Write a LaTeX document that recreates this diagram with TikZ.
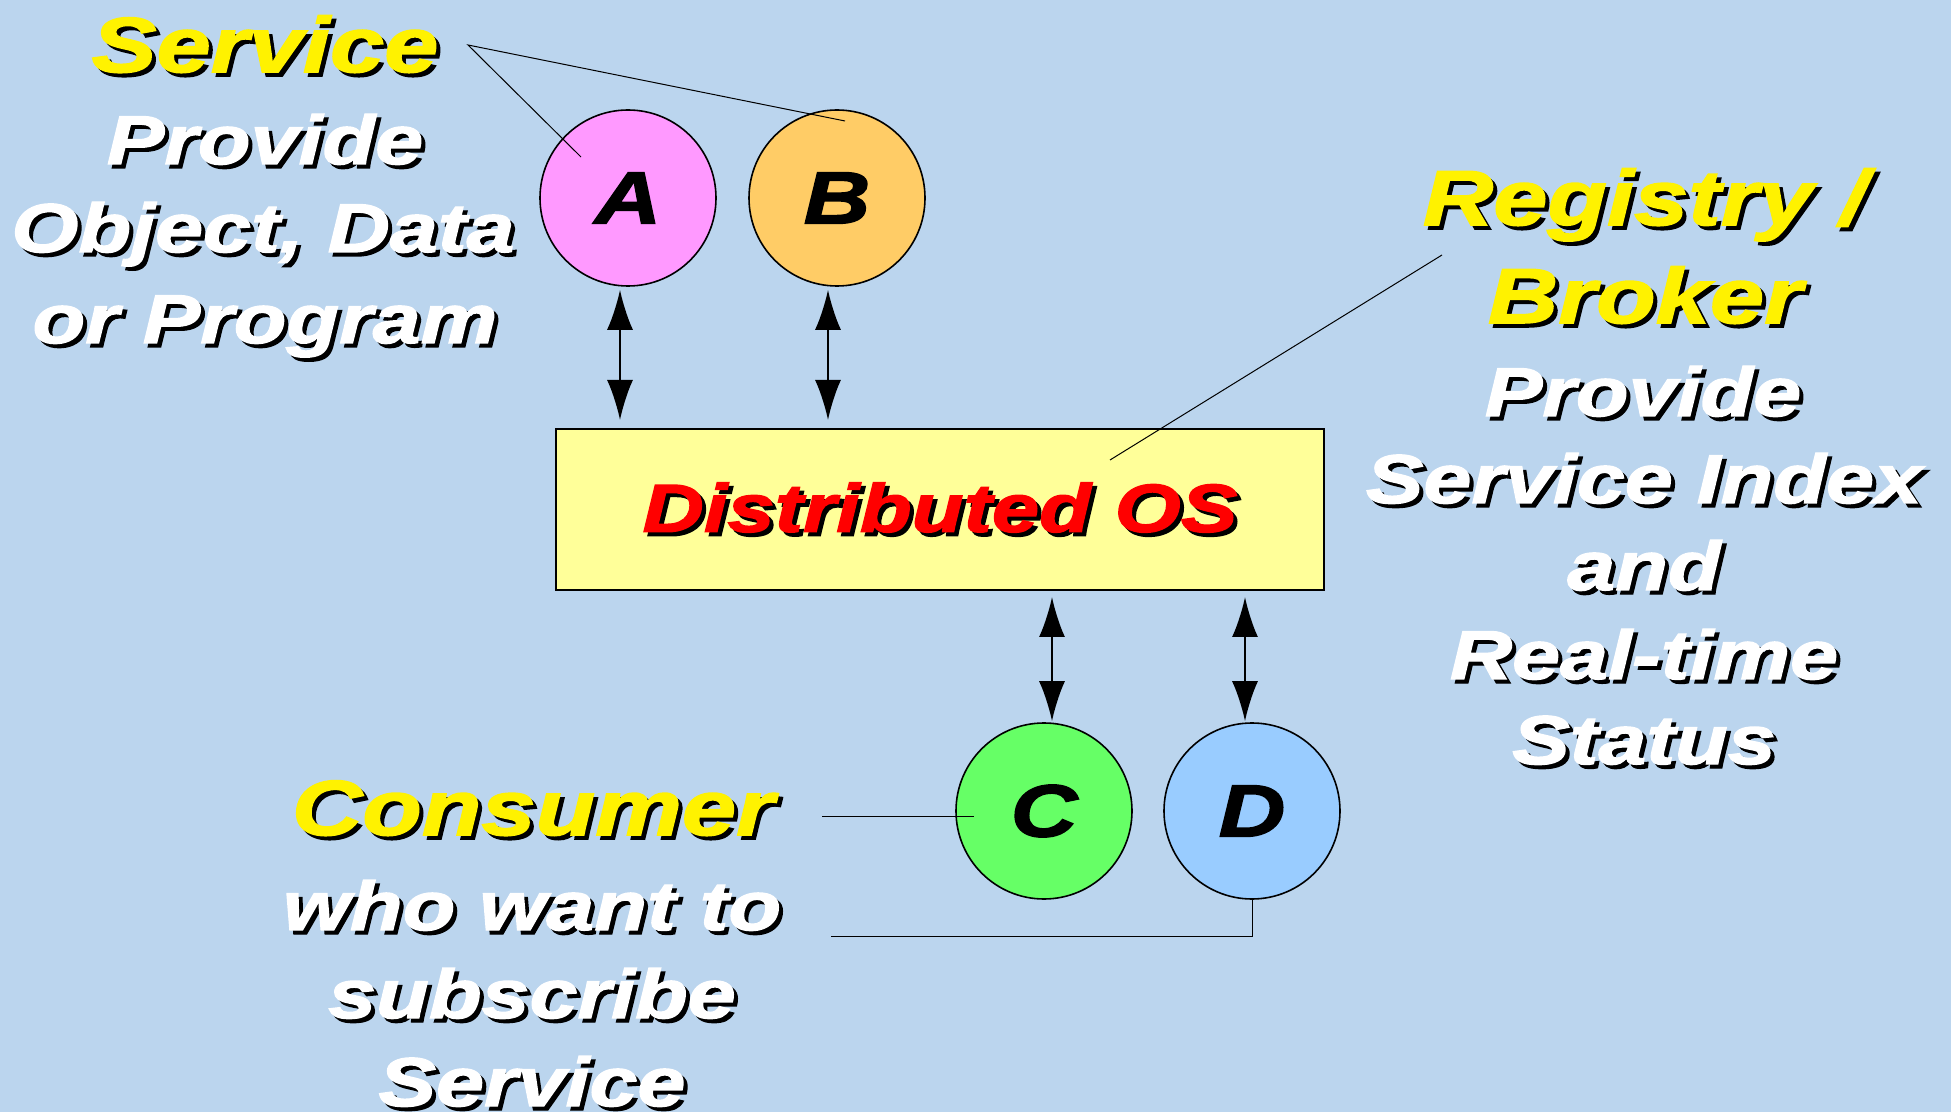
\documentclass[tikz,border=0pt]{standalone}
\usepackage{fontspec}
\setmainfont{Liberation Sans}
\newfontfamily\hvy[FakeStretch=1.25,FakeBold=2]{Liberation Sans}
\usetikzlibrary{arrows.meta}
\definecolor{bg}{RGB}{187,213,238}
\definecolor{cA}{RGB}{255,153,255}
\definecolor{cB}{RGB}{255,204,102}
\definecolor{cC}{RGB}{102,255,102}
\definecolor{cD}{RGB}{153,204,255}
\definecolor{cBox}{RGB}{255,255,153}
\newcommand{\shd}[2]{\leavevmode\rlap{\hspace{2pt}\raisebox{-2pt}{\color{black}#2}}{\color{#1}#2}}
\tikzset{
  big/.style={anchor=base, inner sep=0pt, font=\hvy\bfseries\itshape\fontsize{39}{41}\selectfont},
  small/.style={anchor=base, inner sep=0pt, font=\hvy\bfseries\itshape\fontsize{34.5}{36}\selectfont},
  ball/.style={circle, draw=black, line width=0.8pt, inner sep=0pt, minimum size=88pt,
    font=\hvy\bfseries\itshape\fontsize{37}{38}\selectfont},
  dbl/.style={{Latex[length=20pt,width=13pt]}-{Latex[length=20pt,width=13pt]}, line width=1.1pt},
  thin/.style={line width=0.5pt, draw=black}
}
\begin{document}
\begin{tikzpicture}[x=0.5pt,y=-0.5pt]
\fill[bg] (0,0) rectangle (1951,1112);
\useasboundingbox (0,0) rectangle (1951,1112);

% circles
\node[ball, fill=cA] (A) at (628,198) {\raisebox{-1.5pt}{A}};
\node[ball, fill=cB] (B) at (837,198) {\raisebox{-1.5pt}{B}};
\node[ball, fill=cC] (C) at (1044,811) {\raisebox{-1.5pt}{C}};
\node[ball, fill=cD] (D) at (1252,811) {\raisebox{-1.5pt}{D}};

% box
\node[draw=black, line width=1pt, fill=cBox, minimum width=384pt, minimum height=80.5pt, inner sep=0pt,
  font=\hvy\bfseries\itshape\fontsize{34}{36}\selectfont] (box) at (940,509.5)
  {\raisebox{-3pt}{\shd{red}{Distributed OS}}};

% arrows
\draw[dbl, shorten <=1.5pt, shorten >=4pt] ([xshift=-4pt]A.south) -- ([xshift=-4pt]A.south |- box.north);
\draw[dbl, shorten <=1.5pt, shorten >=4pt] ([xshift=-4.5pt]B.south) -- ([xshift=-4.5pt]B.south |- box.north);
\draw[dbl, shorten <=3pt, shorten >=0.5pt] ([xshift=4pt]C.north |- box.south) -- ([xshift=4pt]C.north);
\draw[dbl, shorten <=3pt, shorten >=0.5pt] ([xshift=-3.5pt]D.north |- box.south) -- ([xshift=-3.5pt]D.north);

% left texts
\node[big] (t1) at (265,72) {\shd{yellow}{Service}};
\node[small] (t2) at (265,164) {\shd{white}{Provide}};
\node[small] (t3) at (263,252) {\shd{white}{Object, Data}};
\node[small] (t4) at (265,343) {\shd{white}{or Program}};

% right texts
\node[big] (r1) at (1645,225) {\shd{yellow}{Registry /}};
\node[big] (r2) at (1645,323) {\shd{yellow}{Broker}};
\node[small] (r3) at (1643,416) {\shd{white}{Provide}};
\node[small] (r4) at (1644,503) {\shd{white}{Service Index}};
\node[small] (r5) at (1644,590) {\shd{white}{and}};
\node[small] (r6) at (1644,679) {\shd{white}{Real-time}};
\node[small] (r7) at (1644,764) {\shd{white}{Status}};

% bottom-left texts
\node[big] (c1) at (533,835) {\shd{yellow}{Consumer}};
\node[small] (c2) at (532,930) {\shd{white}{who want to}};
\node[small] (c3) at (532,1018) {\shd{white}{subscribe}};
\node[small] (c4) at (532,1106) {\shd{white}{Service}};

% pointer lines
\coordinate (svc) at (468,45);
\coordinate (aIn) at (581,157);
\coordinate (bIn) at (845,121);
\draw[thin] (aIn) -- (svc) -- (bIn);
\coordinate (reg) at (1442,255);
\coordinate (osIn) at (1110,460);
\draw[thin] (reg) -- (osIn);
\coordinate (con) at (822,816);
\coordinate (cIn) at (974,816);
\draw[thin] (con) -- (cIn);
\coordinate (sub) at (831,936);
\draw[thin] (sub) -- (sub -| D.south) -- (D.south);
\end{tikzpicture}
\end{document}
